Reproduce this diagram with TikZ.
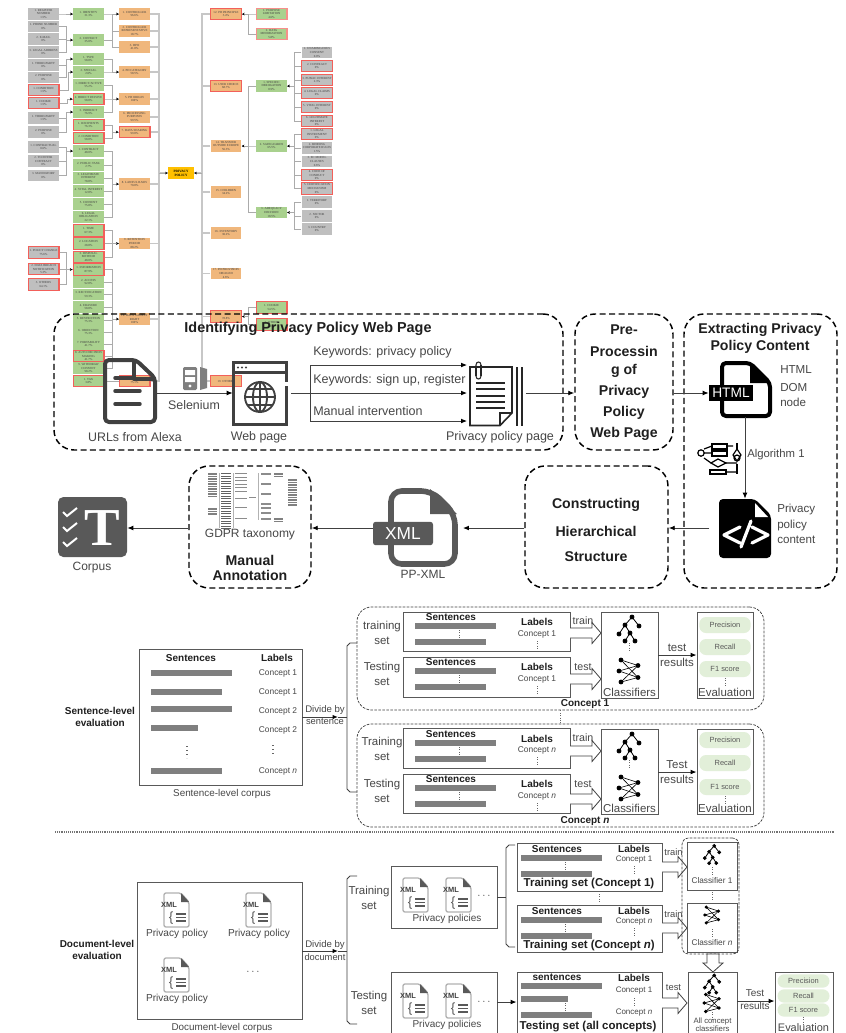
\documentclass[tikz,border=0pt]{standalone}
\usepackage{fontspec}
\setmainfont{Liberation Sans}
\newfontfamily\txf{Liberation Serif}
\usetikzlibrary{arrows.meta,fit}
\definecolor{txgray}{HTML}{BFBFBF}
\definecolor{txgreen}{HTML}{A9D18E}
\definecolor{txorange}{HTML}{F0B77C}
\definecolor{txred}{HTML}{F2605A}
\definecolor{txamber}{HTML}{FFC000}
\definecolor{ink}{HTML}{404040}
\definecolor{icon}{HTML}{595959}
\definecolor{barc}{HTML}{7F7F7F}
\definecolor{pill}{HTML}{E2EFD9}
\newcounter{tn}
\tikzset{
 tax/.style={minimum width=23.2pt,minimum height=8.8pt,inner sep=0pt,align=center,text=black!75,font=\txf\fontsize{2.3}{2.8}\selectfont},
 gy/.style={tax,fill=txgray},
 gn/.style={tax,fill=txgreen},
 og/.style={tax,fill=txorange},
 hl/.style={draw=txred,line width=.8pt},
 tl/.style={draw=black!33,line width=.55pt},
 tlb/.style={draw=black!22,line width=.9pt},
 tiparr/.style={-{Stealth[length=2pt,width=2pt,black]}},
 dbox/.style={draw=black,line width=1.1pt,dash pattern=on 4.5pt off 2.6pt,rounded corners=15pt},
 fbox/.style={draw=black!75,line width=.55pt,dash pattern=on 2pt off 1pt,rounded corners=11pt},
 sbox/.style={draw=icon,line width=.65pt},
 inv/.style={inner sep=0pt},
 arr/.style={draw=ink,line width=.7pt,-{Latex[length=4.5pt,width=3.6pt,black]}},
 ic/.style={draw=ink,line width=2.6pt,line join=round,rounded corners=3pt},
 fs/.style={font=\fontsize{#1}{#1}\selectfont,text=black!72,inner sep=0pt},
 fb/.style={font=\fontsize{#1}{#1}\selectfont\bfseries,text=black!88,inner sep=0pt},
 vdot/.style={draw=black!60,line width=.55pt,dash pattern=on .8pt off 1pt},
 harrow/.style={draw=ink,line width=.6pt,fill=white},
 pillst/.style={fill=pill,rounded corners=5pt,minimum height=#1,minimum width=38.5pt,inner sep=0pt,font=\fontsize{5.6}{5.6}\selectfont,text=black!65},
}
\newcommand\tb[5]{\node[#2] (#1) at (#3,#4) {#5};}
\newcommand\tx[4][fs=9]{\stepcounter{tn}\node[#1] (t\number\value{tn}) at (#2,{#3}) {#4};}
\newcommand\bx[6]{\node[#2,fit={(#3,#4) (#5,#6)},inner sep=0pt] (#1) {};}
\newcommand\busr[4][tl]{\coordinate (bb) at (#2,0);
 \foreach \s in {#4} \draw[#1] (\s.east) -- (\s.east -| bb) |- (#3.west);
 \draw[tl,tiparr] (#3.west -| bb) -- (#3.west);}
\newcommand\busl[4][tl]{\coordinate (bb) at (#2,0);
 \foreach \s in {#4} \draw[#1] (\s.west) -- (\s.west -| bb) |- (#3.east);
 \draw[tl,tiparr] (#3.east -| bb) -- (#3.east);}
\newcommand\sbar[3]{\fill[barc] (#1,{#3-2.6}) rectangle (#2,{#3+2.6});}
\newcommand\vd[2]{\draw[vdot] (#1,{#2-4}) -- (#1,{#2+4});}
\newcommand\hd[2]{\stepcounter{tn}\node[fs=8] (t\number\value{tn}) at (#1,#2) {$\cdots$};}
\newcommand\hollow[3]{\draw[harrow] (#1,#3-5) -- (#2-9,#3-5) -- (#2-9,#3-10.5) -- (#2,#3) -- (#2-9,#3+10.5) -- (#2-9,#3+5) -- (#1,#3+5);}
\newcommand\hollowd[3]{\draw[harrow] (#1-6,#2) -- (#1-6,#3-9) -- (#1-10,#3-9) -- (#1,#3) -- (#1+10,#3-9) -- (#1+6,#3-9) -- (#1+6,#2) -- cycle;}
\newcommand\treei[3]{\begin{scope}[shift={(#1,{#2})},scale=#3]
 \draw[black,line width=.6pt] (3,-12)--(-4,-4)--(-10,5) (3,-12)--(10,-3) (-4,-4)--(1,4)--(-4,12) (1,4)--(6,12);
 \foreach \a/\b in {3/-12,-4/-4,10/-3,-10/5,1/4,-4/12,6/12} \draw[fill=white,black,line width=.6pt] (\a,\b) circle (2);
 \end{scope}}
\newcommand\neti[3]{\begin{scope}[shift={(#1,{#2})},scale=#3]
 \foreach \a/\b in {-8/-11,-10/0,-8/11} \foreach \c/\d in {9/-5.5,9/6.5} \draw[black,line width=.45pt] (\a,\b)--(\c,\d);
 \foreach \a/\b in {-8/-11,-10/0,-8/11,9/-5.5,9/6.5} \fill[black] (\a,\b) circle (2.4);
 \end{scope}}
\newcommand\xmli[3]{\begin{scope}[shift={(#2,#3)}]
 \coordinate (#1) at (0,0);
 \draw[draw=black!30,line width=1pt,rounded corners=1.5pt] (-11,-17) -- (6,-17) -- (14,-8) -- (14,17) -- (-11,17) -- cycle;
 \fill[icon] (6,-17) -- (14,-8) -- (6,-8) -- cycle;
 \stepcounter{tn}\node[font=\fontsize{5.6}{5.6}\selectfont\bfseries,text=ink,inner sep=0pt] (t\number\value{tn}) at (-6,-5.5) {XML};
 \stepcounter{tn}\node[font=\fontsize{10}{10}\selectfont,text=icon,inner sep=0pt] (t\number\value{tn}) at (-4,8) {\{};
 \foreach \k in {4,7.5,11} \draw[icon,line width=1.2pt] (1,\k) -- (11,\k);
 \end{scope}}
% sentence block: name,y1,y2,senty,bar1,bar2,laby,cony,text
\newcommand\sblk[9]{\bx{#1}{sbox}{403}{#2}{570}{#3}
 \tx[fb=7.5]{451}{#4}{Sentences}\sbar{415}{496}{#5}\vd{459}{(#5+#6)/2}\sbar{415}{486}{#6}
 \tx[fb=7.5]{537}{#7}{Labels}\tx[fs=6.3]{537}{#8}{#9}\vd{537}{#8+11}}
\newcommand\clsblk[5]{\bx{#1}{sbox}{601}{#2}{658}{#3}
 \treei{629}{#2+17}{1}\vd{629}{#2+35}\neti{629}{#4}{1}\tx[fs=8.6]{629.5}{#5}{Classifiers}}
\newcommand\evblk[7]{\bx{#1}{sbox}{697}{#2}{753}{#3}
 \stepcounter{tn}\node[pillst=12pt] (t\number\value{tn}) at (725,#4) {Precision};
 \stepcounter{tn}\node[pillst=12pt] (t\number\value{tn}) at (725,#5) {Recall};
 \stepcounter{tn}\node[pillst=12pt] (t\number\value{tn}) at (725,#6) {F1 score};
 \vd{725}{#6+13}\tx[fs=8.6]{725}{#7}{Evaluation}}
\newcommand\tset[5]{\bx{#1}{sbox}{517}{#2}{662}{#3}
 \tx[fb=7.5]{557}{#2+6}{Sentences}\sbar{521}{602}{#2+15}\vd{565}{#2+23}\sbar{521}{592}{#2+31}
 \tx[fb=7.5]{634}{#2+6}{Labels}\tx[fs=6]{634}{#2+17}{#4}\vd{634}{#2+27}\tx[fb=8.6]{589}{#2+41}{#5}}
\begin{document}
\begin{tikzpicture}[x=.75pt,y=-.75pt]
\useasboundingbox (0,0) rectangle (846,1033);
\clip (0,0) rectangle (846,1033);
\fill[white] (0,0) rectangle (846,1033);
% ---- taxonomy
\tb{a1}{gy}{43.5}{14}{1. REGISTER\\NUMBER\\1.5\%}
\tb{a2}{gy}{43.5}{26.5}{1. PHONE NUMBER\\0\%}
\tb{a3}{gy}{43.5}{39}{2. E-MAIL\\0\%}
\tb{a4}{gy}{43.5}{52}{3. LEGAL ADDRESS\\0\%}
\tb{a5}{gy}{43.5}{65}{1. THIRD-PARTY\\0\%}
\tb{a6}{gy}{43.5}{77.5}{2. PURPOSE\\0\%}
\tb{a7}{gy,hl}{43.5}{90}{1. CONDITION\\1.5\%}
\tb{a8}{gy,hl}{43.5}{103}{1. COOKIE\\1.5\%}
\tb{a9}{gy}{43.5}{118}{1. THIRD-PARTY\\1.5\%}
\tb{a10}{gy}{43.5}{132}{2. PURPOSE\\0\%}
\tb{a11}{gy}{43.5}{147}{1. CONTRACTUAL\\0.6\%}
\tb{a12}{gy}{43.5}{161}{2. TO ENTER\\CONTRACT\\0\%}
\tb{a13}{gy}{43.5}{175.5}{3. MANDATORY\\0\%}
\tb{h1}{gy,hl}{43.5}{252.5}{1. POLICY CHANGE\\75.6\%}
\tb{h2}{gy,hl}{43.5}{269}{2. DATA BREACH\\NOTIFICATION\\5.3\%}
\tb{h3}{gy,hl}{43.5}{284.5}{3. OTHERS\\64.1\%}
\tb{b1}{gn}{88.5}{14}{1. IDENTITY\\31.3\%}
\tb{b2}{gn}{88.5}{40}{2. CONTACT\\35.0\%}
\tb{b3}{gn}{88.5}{59}{1. TYPE\\58.8\%}
\tb{b4}{gn}{88.5}{72}{2. SPECIAL\\2.0\%}
\tb{b5}{gn}{88.5}{85}{1. DIRECT/ACTIVE\\55.2\%}
\tb{b6}{gn,hl}{88.5}{99}{2. DIRECT PASSIVE\\58.8\%}
\tb{b7}{gn}{88.5}{112}{3. INDIRECT\\76.9\%}
\tb{b8}{gn,hl}{88.5}{125}{1. RECIPIENTS\\76.3\%}
\tb{b9}{gn,hl}{88.5}{138}{2. CONDITION\\58.8\%}
\tb{b10}{gn}{88.5}{151}{1. CONTRACT\\48.0\%}
\tb{b11}{gn}{88.5}{165}{2. PUBLIC TASK\\2.7\%}
\tb{b12}{gn}{88.5}{178}{3. LEGITIMATE\\INTEREST\\78.8\%}
\tb{b13}{gn}{88.5}{191}{4. VITAL INTEREST\\12.8\%}
\tb{b14}{gn}{88.5}{204}{5. CONSENT\\75.8\%}
\tb{b15}{gn}{88.5}{217}{6. LEGAL\\OBLIGATION\\22.1\%}
\tb{b16}{gn,hl}{88.5}{230.5}{1. TIME\\67.3\%}
\tb{b17}{gn,hl}{88.5}{243.5}{2. LOCATION\\28.8\%}
\tb{b18}{gn,hl}{88.5}{257}{3. DISPOSAL\\METHOD\\48.0\%}
\tb{b19}{gn,hl}{88.5}{269.5}{1. INFORMATION\\87.9\%}
\tb{b20}{gn}{88.5}{282}{2. ACCESS\\92.8\%}
\tb{b21}{gn}{88.5}{294.5}{3. RECTIFICATION\\59.3\%}
\tb{b22}{gn}{88.5}{307}{4. ERASURE\\58.8\%}
\tb{b23}{gn}{88.5}{320}{5. RESTRICTION\\75.3\%}
\tb{b24}{gn}{88.5}{332}{6. OBJECTION\\75.3\%}
\tb{b25}{gn}{88.5}{344}{7. PORTABILITY\\41.7\%}
\tb{b26}{gn,hl}{88.5}{356}{8. AUTO DECISION\\MAKING\\41.7\%}
\tb{b27}{gn}{88.5}{368}{9. WITHDRAW\\CONSENT\\98.2\%}
\tb{b28}{gn,hl}{88.5}{381}{1. TAX\\3.8\%}
\tb{c1}{og}{134.5}{14}{1. CONTROLLER\\96.6\%}
\tb{c2}{og}{134.5}{31}{2. CONTROLLER\\REPRESENTATIVE\\18.7\%}
\tb{c3}{og}{134.5}{47}{3. DPO\\41.8\%}
\tb{c4}{og}{134.5}{72}{4. PD CATEGORY\\58.5\%}
\tb{c5}{og}{134.5}{99}{5. PD ORIGIN\\100\%}
\tb{c6}{og}{134.5}{117}{6. PROCESSING\\PURPOSES\\99.5\%}
\tb{c7}{og,hl}{134.5}{132}{7. DATA SHARING\\99.8\%}
\tb{c8}{og}{134.5}{184}{8. LAWFUL BASIS\\70.8\%}
\tb{c9}{og}{134.5}{243.5}{9. RETENTION\\PERIOD\\88.2\%}
\tb{c10}{og}{134.5}{319}{10. DATA SUBJECT\\RIGHT\\100\%}
\tb{c11}{og,hl}{134.5}{381}{\phantom{X}\\75.1\%}
\tb{pp}{tax,fill=txamber,font=\txf\bfseries\fontsize{2.5}{3}\selectfont,minimum width=19.5pt,text=black}{181}{173}{PRIVACY\\POLICY}
\tb{d1}{og,hl}{226}{14}{12. PD PRINCIPLE\\3.4\%}
\tb{d2}{og,hl}{226}{86}{13. USER CHOICE\\68.7\%}
\tb{d3}{og}{226}{146}{14. TRANSFER\\OUTSIDE EUROPE\\56.3\%}
\tb{d4}{og}{226}{192}{15. CHILDREN\\34.2\%}
\tb{d5}{og}{226}{233}{16. INVENTORY\\30.2\%}
\tb{d6}{og}{226}{273.5}{17. PD PROVISION\\OBLIGED\\4.6\%}
\tb{d7}{og,hl}{226}{316.5}{\phantom{X}\\78.8\%}
\tb{d8}{og,hl}{226}{381}{19. OTHERS}
\tb{e1}{gn,hl,draw=txred!70}{271.5}{14}{1. PURPOSE\\LIMITATION\\4.6\%}
\tb{e2}{gn,hl,draw=txred!70}{271.5}{34}{2. DATA\\MINIMIZATION\\5.8\%}
\tb{e3}{gn}{271.5}{86}{1. SPECIFIC\\DEROGATION\\8.9\%}
\tb{e4}{gn}{271.5}{146}{2. SAFEGUARDS\\65.5\%}
\tb{e5}{gn}{271.5}{212.5}{3. ADEQUACY\\DECISION\\18.5\%}
\tb{e6}{gn,hl}{271.5}{307.5}{1. COOKIE\\54.5\%}
\tb{e7}{gn,hl}{271.5}{324.5}{2. OTHER\\14.7\%}
\tb{f1}{gy}{317}{52.5}{1. UNAMBIGUOUS\\CONSENT\\0.0\%}
\tb{f2}{gy,hl}{317}{66}{2. CONTRACT\\0\%}
\tb{f3}{gy,hl}{317}{80}{3. PUBLIC INTEREST\\2.3\%}
\tb{f4}{gy,hl}{317}{93}{4. LEGAL CLAIMS\\0\%}
\tb{f5}{gy,hl}{317}{107}{5. VITAL INTEREST\\0\%}
\tb{f6}{gy,hl}{317}{121}{6. LEGITIMATE\\INTEREST\\0\%}
\tb{f7}{gy,hl}{317}{134}{1. LEGAL\\INSTRUMENT\\0\%}
\tb{f8}{gy}{317}{148}{2. BINDING\\CORPORATE RULES\\1.5\%}
\tb{f9}{gy}{317}{161.5}{3. EC MODEL\\CLAUSES\\0.6\%}
\tb{f10}{gy,hl}{317}{175}{4. CODE OF\\CONDUCT\\0\%}
\tb{f11}{gy,hl}{317}{188.5}{5. CERTIFICATION\\MECHANISM\\0\%}
\tb{f12}{gy}{317}{202}{1. TERRITORY\\0\%}
\tb{f13}{gy}{317}{216}{2. SECTOR\\0\%}
\tb{f14}{gy}{317}{229}{3. COUNTRY\\0\%}
\busr{66}{b1}{a1}
\busr{66}{b2}{a2,a3,a4}
\busr{66}{b3}{a5,a6}
\busr{68}{b4}{a7}
\busr{67}{b6}{a8}
\busr{66}{b7}{a9,a10}
\busr{66}{b10}{a11,a12,a13}
\busr{66}{b19}{h1,h2,h3}
\busr{112}{c1}{b1,b2}
\draw[tl] (b1.east -| bb) |- (c2.west);
\draw[tl] (b1.east -| bb) |- (c3.west);
\busr{112}{c4}{b3,b4}
\busr{112}{c5}{b5,b6,b7}
\busr{112}{c7}{b8,b9}
\busr{112}{c8}{b10,b11,b12,b13,b14,b15}
\busr{112}{c9}{b16,b17,b18}
\busr{112}{c10}{b19,b20,b21,b22,b23,b24,b25,b26,b27}
\draw[tl] (b28) -- (c11);
\busr[tlb]{159}{pp}{c1,c2,c3,c4,c5,c6,c7,c8,c9,c10,c11}
\busl[tlb]{202}{pp}{d1,d2,d3,d4,d5,d6,d7,d8}
\busl{248}{d1}{e1,e2}
\busl{248}{d3}{e3,e4,e5}
\busl{248}{d7}{e6,e7}
\busl{294}{e3}{f1,f2,f3,f4,f5,f6}
\busl{294}{e4}{f7,f8,f9,f10,f11}
\busl{294}{e5}{f12,f13,f14}
% ---- pipeline boxes
\bx{idb}{dbox}{54}{314}{563}{450}
\bx{preb}{dbox}{575}{314}{673}{450}
\bx{extb}{dbox}{684}{314}{837}{588}
\bx{conb}{dbox}{525}{466}{668}{588}
\bx{manb}{dbox}{189}{466}{311}{588}
\tx[fb=10.8]{308}{329}{Identifying Privacy Policy Web Page}
\tx[fb=10.6]{624}{330}{Pre-}\tx[fb=10.6]{624}{351}{Processin}\tx[fb=10.6]{624}{371}{g of}
\tx[fb=10.6]{624}{392}{Privacy}\tx[fb=10.6]{624}{413}{Policy}\tx[fb=10.6]{624}{434}{Web Page}
\tx[fb=10.6]{760}{330}{Extracting Privacy}\tx[fb=10.6]{760}{347}{Policy Content}
\tx[fb=10.6]{596}{505}{Constructing}\tx[fb=10.6]{596}{531}{Hierarchical}\tx[fb=10.6]{596}{557}{Structure}
\tx[fb=10.6]{250}{560}{Manual}\tx[fb=10.6]{250}{575}{Annotation}
% doc icon
\bx{doc}{inv}{103}{358}{157}{424}
\draw[ic,line width=3pt] (105,360) -- (136,360) -- (155,378) -- (155,422) -- (105,422) -- cycle;
\draw[ic,line width=3pt,rounded corners=0pt] (134,360) -- (134,379) -- (155,379);
\foreach \y/\z in {378/132,391/140,404/140} \draw[ink,line width=2.6pt,line cap=round] (115,\y) -- (\z,\y);
% server
\fill[barc,rounded corners=1pt] (183,367) rectangle (197,390);
\fill[white] (185,370) rectangle (195,375) (185,377) rectangle (195,382);
\fill[white] (190,386) circle (1.6);
\fill[barc] (200,367) -- (207,369) -- (207,388) -- (200,390) -- cycle;
% web icon
\bx{web}{inv}{233}{362}{287}{425}
\draw[draw=ink,line width=1.9pt] (233.5,362.5) rectangle (286.5,424.5);
\draw[draw=ink,line width=1.9pt] (233.5,372.5) -- (286.5,372.5);
\foreach \x in {238,242,246} \fill[ink] (\x,367.5) circle (1.1);
\begin{scope}[line width=1.4pt]
\draw[ink] (260,397) circle (15);
\draw[ink] (260,397) ellipse (7 and 15);
\draw[ink] (260,382) -- (260,412) (245,397) -- (275,397) (247.3,389) -- (272.7,389) (247.3,405) -- (272.7,405);
\end{scope}
\fill[white] (285,382) rectangle (289,386);
% policy page icon
\bx{pol}{inv}{470}{365}{523}{426}
\draw[draw=black!85,line width=1.2pt] (470,367) -- (512,367) -- (512,413) -- (500,425.5) -- (470,425.5) -- cycle;
\draw[draw=black!85,line width=1.2pt] (500,425.5) -- (500,413) -- (512,413);
\draw[draw=black!85,line width=1.2pt] (517,367) -- (517,425.5) (522,367) -- (522,425.5);
\foreach \y in {383,389,396,402,408} \draw[draw=black!85,line width=.9pt] (476,\y) -- (505,\y);
\draw[draw=black!85,line width=.8pt] (476,368) -- (476,376) (481,365) -- (481,376);
\draw[draw=black!85,line width=.8pt] (476,376) .. controls (476,380) and (481,380) .. (481,376);
\draw[draw=black!85,line width=.8pt] (481,365) .. controls (481,361) and (476,361) .. (476,365) -- (476,368);
% keywords
\coordinate (y393) at (0,393);\coordinate (y365) at (0,365);\coordinate (y421) at (0,421);\coordinate (y528) at (0,528);
\coordinate (br) at (310,393);
\draw[arr] (doc.east |- y393) -- (web.west |- y393);
\draw[draw=ink,line width=.7pt] ([xshift=3pt]web.east |- y393) -- (br);
\draw[draw=ink,line width=.7pt] (br |- y365) -- (br |- y421);
\draw[arr] (br |- y365) -- ([xshift=-2pt]pol.west |- y365);
\draw[arr] (br) -- ([xshift=-2pt]pol.west |- y393);
\draw[arr] (br |- y421) -- ([xshift=-2pt]pol.west |- y421);
\draw[arr] ([xshift=2pt]pol.east |- y393) -- (preb.west |- y393);
\tx[fs=9.4,anchor=west]{313}{352}{Keywords: privacy policy}
\tx[fs=9.4,anchor=west]{313}{380}{Keywords: sign up, register}
\tx[fs=9.4,anchor=west]{313}{411}{Manual intervention}
\tx[fs=9.3]{194}{405}{Selenium}
\tx[fs=9.3]{135}{437}{URLs from Alexa}
\tx[fs=9.3]{259}{437}{Web page}
\tx[fs=9.4]{500}{437}{Privacy policy page}
% html icon
\bx{html}{inv}{709}{362}{771}{417}
\draw[draw=black,line width=3pt,line join=round,rounded corners=3pt] (722,363) -- (750,363) -- (770,383) -- (770,416) -- (722,416) -- cycle;
\fill[black] (750,363) -- (770,383) -- (750,383) -- cycle;
\node[fill=black,text=white,minimum width=33pt,minimum height=12pt,inner sep=0pt,font=\fontsize{10.3}{10.3}\selectfont] (htmlb) at (731,393) {HTML};
\draw[arr] (preb.east |- y393) -- (htmlb.west);
\tx[fs=8.7,anchor=west]{780}{370}{HTML}\tx[fs=8.7,anchor=west]{780}{387}{DOM}\tx[fs=8.7,anchor=west]{780}{402}{node}
% code icon
\node[inv,fit={(719,499) (771,558)}] (code) {};
\fill[black,rounded corners=3pt] (719,499) -- (755,499) -- (771,515) -- (771,558) -- (719,558) -- cycle;
\fill[white] (755,503) -- (768,517) -- (755,517) -- cycle;
\draw[white,line width=2.4pt,line cap=round,line join=round] (740,527) -- (724,535) -- (740,543) (751,521) -- (741,547) (752,527) -- (768,535) -- (752,543);
\coordinate (x745) at (745,0);
\draw[arr] (html.south -| x745) -- (code.north -| x745);
\draw[arr] ([xshift=-7pt]code.west |- y528) -- (conb.east |- y528);
\tx[fs=8.7,anchor=west]{777}{509}{Privacy}\tx[fs=8.7,anchor=west]{777}{525}{policy}\tx[fs=8.7,anchor=west]{777}{540}{content}
% algorithm icon
\begin{scope}[line width=.9pt]
\draw[black] (701,453) circle (3.2);
\draw[black] (712,444) rectangle (727,449) (712,451) rectangle (727,456) (710,470) rectangle (726,474);
\draw[black] (718,459) -- (726,463) -- (718,467) -- (711,463) -- cycle;
\draw[black] (704,453) -- (712,453) (704,449) -- (712,446) (704,458) -- (711,463) (727,446) -- (733,446) (726,463) -- (737,463) (726,472) -- (737,472);
\draw[black] (737,443) -- (737,449) (737,464) -- (737,474);
\draw[black] (737,449) -- (741,455) -- (737,461) -- (733,455) -- cycle;
\draw[black] (737,458) circle (3);
\end{scope}
\tx[fs=8.5,anchor=west]{747}{455}{Algorithm 1}
% xml big icon
\bx{xmlb}{inv}{373}{488}{458}{567}
\draw[draw=icon,line width=4.2pt,line join=round,rounded corners=8pt] (391,491) -- (432,491) -- (455,514) -- (455,564) -- (391,564) -- cycle;
\fill[icon] (430,489) -- (457,514) -- (430,514) -- cycle;
\node[fill=icon,text=white,rounded corners=2pt,minimum width=45pt,minimum height=17.5pt,inner sep=0pt,font=\fontsize{13}{13}\selectfont] (xmlbadge) at (403,533.5) {XML};
\tx[fs=9]{423}{574}{PP-XML}
\draw[arr] (conb.west |- y528) -- ([xshift=3.5pt]xmlb.east |- y528);
\draw[arr] (xmlbadge.west |- y528) -- (manb.east |- y528);
% mini taxonomy
\begin{scope}
\foreach \y in {473,475.5,...,497} \fill[black!50] (208,\y) rectangle (217,\y+1.5);
\foreach \y in {508,510.5,...,515} \fill[black!50] (208,\y) rectangle (217,\y+1.5);
\foreach \y in {473,475.5,...,528} \fill[black!62] (221,\y) rectangle (231,\y+1.4);
\foreach \y in {473,476.5,480,483.5,487,490.5,498,507,518} \fill[black!45] (235,\y) rectangle (247,\y+1.2);
\fill[black!45] (249,496.5) rectangle (256,498);
\foreach \y in {473,483,493,503,507,512,518} \fill[black!45] (261,\y) rectangle (271,\y+1.5);
\foreach \y in {473,475.5,518,520.5} \fill[black!50] (274,\y) rectangle (283,\y+1.5);
\foreach \y in {479,481.5,...,505} \fill[black!50] (288,\y) rectangle (297,\y+1.5);
\draw[black!30,line width=.3pt] (219,473) -- (219,528) (233,473) -- (233,528) (258,473) -- (258,520);
\end{scope}
\tx[fs=9]{250}{535}{GDPR taxonomy}
% corpus icon
\node[fill=icon,rounded corners=4pt,inv,fit={(58,497) (127,557)}] (corp) {};
\draw[white,line width=1.5pt] (63,512) -- (67,516) -- (77,508) (63,527) -- (67,531) -- (77,523) (63,542) -- (67,546) -- (77,538);
\node[text=white,inner sep=0pt,font=\txf\bfseries\fontsize{40}{40}\selectfont] (corpt) at (102.5,528) {T};
\tx[fs=9]{92}{568}{Corpus}
\draw[arr] (manb.west |- y528) -- (corp.east |- y528);
% ---- sentence-level
\bx{slc}{sbox}{139}{649}{302}{785}
\tx[fb=7.5]{191}{658}{Sentences}\tx[fb=7.5]{277}{658}{Labels}
\sbar{151}{232}{673}\sbar{151}{222}{692}\sbar{151}{232}{709}\sbar{151}{198}{728}\sbar{151}{222}{771}
\tx[fs=6.3]{278}{673}{Concept 1}\tx[fs=6.3]{278}{692}{Concept 1}\tx[fs=6.3]{278}{711}{Concept 2}\tx[fs=6.3]{278}{730}{Concept 2}\tx[fs=6.3]{278}{771}{Concept \textit{n}}
\draw[draw=black!60,line width=.9pt,dash pattern=on 1pt off 2pt] (187,746) -- (187,758) (273,745) -- (273,757);
\tx[fs=7.4]{222}{794}{Sentence-level corpus}
\tx[fb=7.5]{100}{711}{Sentence-level}\tx[fb=7.5]{100}{723}{evaluation}
\tx[fs=7.2]{325}{710}{Divide by}\tx[fs=7]{325}{722}{sentence}
\coordinate (sbr) at (347,717);\coordinate (smid) at (338,717);
\draw[draw=ink,line width=.7pt,-{Latex[length=4pt,width=3.2pt,black]}] (slc.east |- sbr) -- (smid);
\draw[draw=ink,line width=.7pt] (smid) -- (sbr);
\draw[draw=ink,line width=.7pt] (357,643) -- (350,643) -- (347,646) -- (347,789) -- (350,792) -- (357,792);
\bx{c1b}{fbox}{357}{607}{764}{710}
\bx{cnb}{fbox}{357}{724}{764}{827}
\draw[vdot,line width=.8pt] (c1b.south) -- (cnb.north);
\tx[fs=8.6]{382}{627}{training}\tx[fs=8.6]{382}{641}{set}
\tx[fs=8.6]{382}{668}{Testing}\tx[fs=8.6]{382}{682}{set}
\tx[fs=8.6]{382}{743}{Training}\tx[fs=8.6]{382}{757}{set}
\tx[fs=8.6]{382}{785}{Testing}\tx[fs=8.6]{382}{799}{set}
\sblk{s1}{612}{651}{617}{626}{642}{622}{634}{Concept 1}
\sblk{s2}{657}{697}{662}{671}{687}{667}{679}{Concept 1}
\sblk{s3}{728}{768}{734}{743}{759}{739}{750}{Concept \textit{n}}
\sblk{s4}{774}{813}{779}{788}{804}{784}{796}{Concept \textit{n}}
\hollow{570}{601}{633}\hollow{570}{601}{679}\hollow{570}{601}{751}\hollow{570}{601}{799}
\tx[fs=8]{583}{621}{train}\tx[fs=8]{583}{667}{test}\tx[fs=8]{583}{738}{train}\tx[fs=8]{583}{784}{test}
\clsblk{k1}{612}{698}{671}{692}
\clsblk{k2}{729}{814}{788}{808}
\evblk{v1}{612}{698}{625}{647}{669}{692}
\evblk{v2}{729}{814}{740}{763}{787}{808}
\coordinate (y655) at (0,655);\coordinate (y772) at (0,772);
\draw[arr] (k1.east |- y655) -- (v1.west |- y655);
\draw[arr] (k2.east |- y772) -- (v2.west |- y772);
\tx[fs=8.6]{677}{648}{test}\tx[fs=8.6]{677}{662}{results}
\tx[fs=8.6]{677}{765}{Test}\tx[fs=8.6]{677}{779}{results}
\tx[fb=7.5]{585}{704}{Concept 1}\tx[fb=7.5]{585}{821}{Concept \textit{n}}
% separator
\coordinate (sepa) at (55,832);\coordinate (sepb) at (834,832);
\draw[draw=black!55,line width=.9pt,dash pattern=on .7pt off .7pt] (sepa) -- (sepb);
% ---- document-level
\bx{dlc}{sbox}{137}{882}{302}{1019}
\xmli{xa}{175}{910}\xmli{xb}{257}{910}\xmli{xc}{175}{975}
\tx[fs=7.6]{177}{934}{Privacy policy}\tx[fs=7.6]{259}{934}{Privacy policy}\tx[fs=7.6]{177}{999}{Privacy policy}
\hd{253}{972}
\tx[fs=7.4]{222}{1028}{Document-level corpus}
\tx[fb=7.5]{97}{944}{Document-level}\tx[fb=7.5]{97}{956}{evaluation}
\tx[fs=7.2]{325}{945}{Divide by}\tx[fs=7]{325}{957}{document}
\coordinate (dbr) at (347,951);\coordinate (dmid) at (338,951);
\draw[draw=ink,line width=.7pt,-{Latex[length=4pt,width=3.2pt,black]}] (dlc.east |- dbr) -- (dmid);
\draw[draw=ink,line width=.7pt] (dmid) -- (dbr);
\draw[draw=ink,line width=.7pt] (357,876) -- (350,876) -- (347,879) -- (347,1021) -- (350,1024) -- (357,1024);
\tx[fs=8.6]{369}{892}{Training}\tx[fs=8.6]{369}{906}{set}
\tx[fs=8.6]{369}{997}{Testing}\tx[fs=8.6]{369}{1011}{set}
\bx{pa}{sbox}{391}{866}{497}{928}
\bx{pb}{sbox}{391}{972}{497}{1040}
\xmli{xd}{414}{895}\xmli{xe}{457}{895}\xmli{xf}{414}{1001}\xmli{xg}{457}{1001}
\hd{484}{896}\hd{484}{1002}
\tx[fs=7.5]{447}{919}{Privacy policies}\tx[fs=7.5]{447}{1025}{Privacy policies}
\coordinate (pabr) at (506,897);
\draw[draw=ink,line width=.7pt] (pa.east |- pabr) -- (pabr);
\draw[draw=ink,line width=.7pt] (515,845) -- (509,845) -- (506,848) -- (506,944) -- (509,947) -- (515,947);
\tset{ta}{843}{891}{Concept 1}{Training set (Concept 1)}
\tset{tb}{905}{952}{Concept \textit{n}}{Training set (Concept \textit{n})}
\vd{599}{898}
\bx{tc}{sbox}{517}{972}{662}{1040}
\tx[fb=7.5]{557}{977}{sentences}\sbar{521}{602}{986}\sbar{521}{568}{999}\sbar{521}{592}{1015}\vd{565}{1007}
\tx[fb=7.5]{634}{978}{Labels}\tx[fs=6]{634}{991}{Concept 1}\vd{634}{1002}\tx[fs=6]{634}{1013}{Concept \textit{n}}
\tx[fb=8.6]{588}{1027}{Testing set (all concepts)}
\coordinate (y1002) at (0,1002);
\draw[arr] (pb.east |- y1002) -- (tc.west |- y1002);
\hollow{662}{687}{867}\hollow{662}{687}{928}\hollow{662}{687}{1003}
\tx[fs=7]{673.5}{852}{train}\tx[fs=7]{673.5}{914}{train}\tx[fs=7]{673.5}{988}{test}
\bx{q1}{sbox}{687}{842}{737}{890}
\bx{q2}{sbox}{687}{903}{737}{952}
\treei{712}{854.5}{.72}\vd{712}{871}\tx[fs=6.2]{712}{881}{Classifier 1}
\vd{712}{896}
\neti{712}{915}{.72}\vd{712}{933}\tx[fs=6.2]{712}{943}{Classifier \textit{n}}
\bx{qd}{fbox,rounded corners=5pt}{682}{838}{739}{954}
\hollowd{713}{954}{972}
\bx{qa}{sbox}{688}{972}{737}{1040}
\treei{712}{984}{.72}\neti{712}{1003}{.78}\vd{712}{1016}
\tx[fs=5.8]{712.5}{1021}{All concept}\tx[fs=5.8]{712.5}{1029}{classifiers}
\bx{ve}{sbox}{775}{972}{833}{1040}
\coordinate (y1001) at (0,1001);
\draw[arr] (qa.east |- y1001) -- (ve.west |- y1001);
\tx[fs=7.5]{755}{993}{Test}\tx[fs=7.5]{755}{1006}{results}
\foreach \yy/\lab in {981/Precision,996/Recall,1010/F1 score}{
 \stepcounter{tn}\node[pillst=10pt,minimum width=39pt] (t\number\value{tn}) at (803.5,\yy) {\lab};}
\vd{803}{1021}
\tx[fs=8.2]{803.5}{1028}{Evaluation}
\end{tikzpicture}
\end{document}
